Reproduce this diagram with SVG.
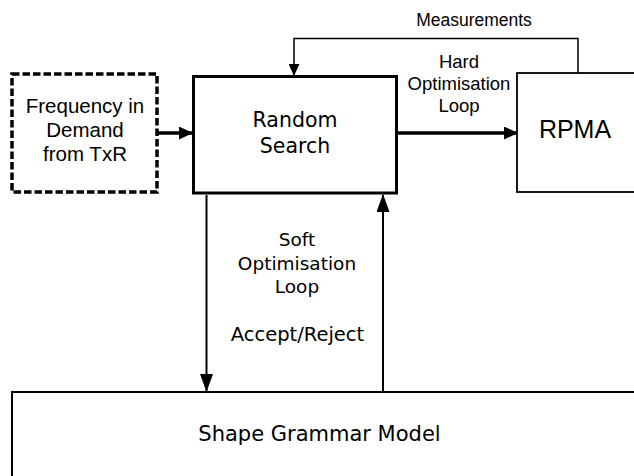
<svg xmlns="http://www.w3.org/2000/svg" width="634" height="476" viewBox="0 0 634 476">
  <style>
    .sans { font-family: "Liberation Sans", Arial, sans-serif; fill: #000; text-anchor: middle; }
    .verd { font-family: "DejaVu Sans", Verdana, sans-serif; fill: #000; text-anchor: middle; }
    .box { fill: #fff; stroke: #000; }
    .wire { fill: none; stroke: #000; }
  </style>
  <defs>
    <marker id="headThick" markerUnits="userSpaceOnUse" markerWidth="14" markerHeight="13" refX="13" refY="6.5" orient="auto">
      <path d="M0,0 L14,6.5 L0,13 z" fill="#000"/>
    </marker>
    <marker id="headMid" markerUnits="userSpaceOnUse" markerWidth="18" markerHeight="13" refX="17" refY="6.5" orient="auto">
      <path d="M0,0 L18,6.5 L0,13 z" fill="#000"/>
    </marker>
    <marker id="headSmall" markerUnits="userSpaceOnUse" markerWidth="12" markerHeight="11" refX="11" refY="5.5" orient="auto">
      <path d="M0,0 L12,5.5 L0,11 z" fill="#000"/>
    </marker>
  </defs>

  <rect width="634" height="476" fill="#fff"/>

  <!-- connectors -->
  <g id="connectors">
    <line class="wire" x1="158" y1="133" x2="192" y2="133" stroke-width="3.5" marker-end="url(#headThick)"/>
    <line class="wire" x1="398" y1="133" x2="517" y2="133" stroke-width="3.5" marker-end="url(#headThick)"/>
    <polyline class="wire" points="578,73 578,38.5 294,38.5 294,75" stroke-width="1.5" marker-end="url(#headSmall)"/>
    <line class="wire" x1="206.5" y1="195" x2="206.5" y2="391" stroke-width="2" marker-end="url(#headMid)"/>
    <line class="wire" x1="383" y1="391" x2="383" y2="195" stroke-width="2" marker-end="url(#headMid)"/>
    <text class="sans" x="474" y="26" font-size="17.5">Measurements</text>
    <text class="sans" x="459" y="68" font-size="18.5">Hard</text>
    <text class="sans" x="459" y="90" font-size="18.5">Optimisation</text>
    <text class="sans" x="459" y="112" font-size="18.5">Loop</text>
    <text class="verd" x="297" y="246" font-size="18.5">Soft</text>
    <text class="verd" x="297" y="270" font-size="18.5">Optimisation</text>
    <text class="verd" x="297" y="293" font-size="18.5">Loop</text>
    <text class="verd" x="297.5" y="341" font-size="19.5">Accept/Reject</text>
  </g>

  <!-- frequency demand source -->
  <g id="frequency">
    <rect class="box" x="12" y="74" width="145" height="118" stroke-width="3.5" stroke-dasharray="7.5 3"/>
    <text class="sans" x="85" y="113" font-size="20.5">Frequency in</text>
    <text class="sans" x="85" y="137" font-size="20.5">Demand</text>
    <text class="sans" x="85" y="161" font-size="20.5">from TxR</text>
  </g>

  <!-- random search block -->
  <g id="random-search">
    <rect class="box" x="193.5" y="76.5" width="203" height="116.5" stroke-width="3"/>
    <text class="verd" x="295" y="127" font-size="20.5">Random</text>
    <text class="verd" x="295" y="153" font-size="20.5">Search</text>
  </g>

  <!-- RPMA block -->
  <g id="rpma">
    <rect class="box" x="517" y="73" width="130" height="119" stroke="#222" stroke-width="1.8"/>
    <text class="sans" x="575" y="138" font-size="25">RPMA</text>
  </g>

  <!-- shape grammar model block -->
  <g id="shape-grammar">
    <rect class="box" x="12" y="392" width="640" height="100" stroke-width="2"/>
    <text class="verd" x="319.5" y="441" font-size="21">Shape Grammar Model</text>
  </g>
</svg>
